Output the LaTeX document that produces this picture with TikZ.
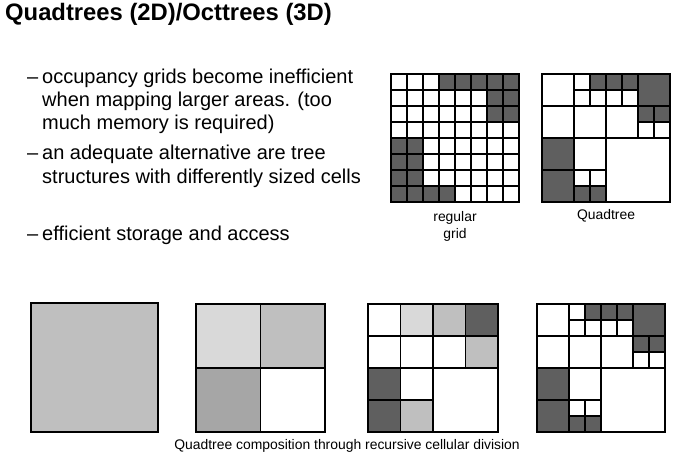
\documentclass[tikz,border=0pt]{standalone}
\usepackage{fontspec}
\setmainfont{Liberation Sans}
\definecolor{cdark}{RGB}{95,95,95}
\definecolor{clight}{RGB}{217,217,217}
\definecolor{cmid}{RGB}{191,191,191}
\definecolor{cmid2}{RGB}{166,166,166}
\tikzset{
  gridline/.style={draw=black, line width=1.1pt},
  bullettext/.style={anchor=base west, inner sep=0pt, font=\fontsize{20}{24}\selectfont},
  caption/.style={anchor=base, inner sep=0pt, font=\fontsize{13.9}{16}\selectfont},
}
\newcommand{\qtdraw}{%
  \fill[cdark] (3,0) rectangle (4,1);
  \fill[cdark] (4,0) rectangle (6,1);
  \fill[cdark] (6,0) rectangle (8,2);
  \fill[cdark] (6,2) rectangle (8,3);
  \fill[cdark] (0,4) rectangle (2,8);
  \fill[cdark] (2,7) rectangle (4,8);
  \draw[gridline] (0,0) rectangle (8,8);
  \draw[gridline] (4,0) -- (4,8) (0,4) -- (8,4) (2,0) -- (2,8) (0,2) -- (8,2)
    (3,0) -- (3,2) (2,1) -- (6,1) (5,0) -- (5,2) (6,0) -- (6,4)
    (7,2) -- (7,4) (6,3) -- (8,3) (0,6) -- (4,6) (3,6) -- (3,8) (2,7) -- (4,7);
}
\begin{document}
\begin{tikzpicture}[x=1pt,y=-1pt]
\useasboundingbox[fill=white] (0,0) rectangle (676,460);

% title
\node[anchor=base west, inner sep=0pt, font=\fontsize{23.8}{28}\selectfont\bfseries] (title) at (5,21) {Quadtrees (2D)/Octtrees (3D)};

% bullets
\node[bullettext] (d1) at (27,83) {–};
\node[bullettext] (b1a) at (42,83) {occupancy grids become inefficient};
\node[bullettext] (b1b) at (42,106) {when mapping larger areas. (too};
\node[bullettext] (b1c) at (42,129) {much memory is required)};
\node[bullettext] (d2) at (27,159) {–};
\node[bullettext] (b2a) at (42,159) {an adequate alternative are tree};
\node[bullettext] (b2b) at (42,183) {structures with differently sized cells};
\node[bullettext] (d3) at (27,240) {–};
\node[bullettext] (b3) at (42,240) {efficient storage and access};

% regular grid
\begin{scope}[shift={(391,74)}, x=16pt, y=-16pt]
  \fill[cdark] (3,0) rectangle (8,1);
  \fill[cdark] (6,1) rectangle (8,3);
  \fill[cdark] (0,4) rectangle (2,8);
  \fill[cdark] (2,7) rectangle (4,8);
  \foreach \i in {1,...,7} {
    \draw[gridline] (\i,0) -- (\i,8);
    \draw[gridline] (0,\i) -- (8,\i);
  }
  \draw[gridline] (0,0) rectangle (8,8);
\end{scope}
\node[caption] (lreg1) at (455,221) {regular};
\node[caption] (lreg2) at (455,238) {grid};

% quadtree top
\begin{scope}[shift={(542,74)}, x=16pt, y=-16pt]
  \qtdraw
\end{scope}
\node[caption] (lqt) at (606,219) {Quadtree};

% bottom row
\filldraw[fill=cmid, gridline] (31,303) rectangle (158,432);

\begin{scope}[shift={(196,304)}, x=64.5pt, y=-64pt]
  \fill[clight] (0,0) rectangle (1,1);
  \fill[cmid] (1,0) rectangle (2,1);
  \fill[cmid2] (0,1) rectangle (1,2);
  \draw[gridline] (0,0) rectangle (2,2);
  \draw[gridline] (1,0) -- (1,2) (0,1) -- (2,1);
\end{scope}

\begin{scope}[shift={(368,304)}, x=32.5pt, y=-32pt]
  \fill[clight] (1,0) rectangle (2,1);
  \fill[cmid] (2,0) rectangle (3,1);
  \fill[cdark] (3,0) rectangle (4,1);
  \fill[cmid] (3,1) rectangle (4,2);
  \fill[cdark] (0,2) rectangle (1,4);
  \fill[cmid] (1,3) rectangle (2,4);
  \draw[gridline] (0,0) rectangle (4,4);
  \draw[gridline] (1,0) -- (1,4) (2,0) -- (2,4) (3,0) -- (3,2)
    (0,1) -- (4,1) (0,2) -- (4,2) (0,3) -- (2,3);
\end{scope}

\begin{scope}[shift={(537,304)}, x=16pt, y=-16pt]
  \qtdraw
\end{scope}

\node[caption] (lbottom) at (347,449) {Quadtree composition through recursive cellular division};
\end{tikzpicture}
\end{document}
